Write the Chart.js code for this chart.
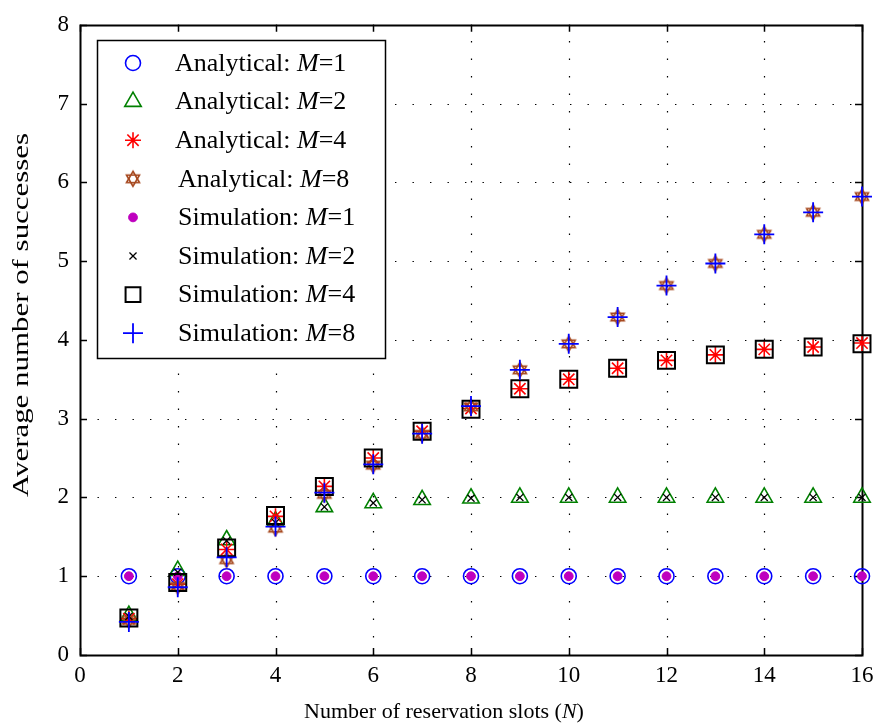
<!DOCTYPE html>
<html>
<head>
<meta charset="utf-8">
<script src="https://cdn.jsdelivr.net/npm/chart.js@4.4.1/dist/chart.umd.min.js"></script>
<style>
html,body{margin:0;padding:0;background:#fff;}
#wrap{width:882px;height:726px;}
</style>
</head>
<body>
<div id="wrap"><canvas id="c" width="882" height="726"></canvas></div>
<script>
// ---------------- data ----------------
const slotsN = [1,2,3,4,5,6,7,8,9,10,11,12,13,14,15,16];
const analyticalM1 = [1,1,1,1,1,1,1,1,1,1,1,1,1,1,1,1];
const analyticalM2 = [0.50,1.07,1.46,1.70,1.88,1.93,1.97,1.99,2.00,2.00,2.00,2.00,2.00,2.00,2.00,2.00];
const analyticalM4 = [0.46,0.90,1.34,1.76,2.14,2.50,2.84,3.13,3.38,3.50,3.64,3.74,3.81,3.88,3.91,3.96];
const analyticalM8 = [0.44,0.87,1.21,1.61,2.04,2.41,2.80,3.15,3.62,3.95,4.29,4.69,4.97,5.34,5.62,5.82];
const simulationM1 = [1,1,1,1,1,1,1,1,1,1,1,1,1,1,1,1];
const simulationM2 = [0.49,1.05,1.45,1.68,1.88,1.93,1.97,1.99,2.00,2.00,2.00,2.00,2.00,2.00,2.00,2.00];
const simulationM4 = [0.47,0.92,1.36,1.77,2.14,2.50,2.84,3.12,3.38,3.50,3.64,3.74,3.81,3.88,3.91,3.95];
const simulationM8 = [0.42,0.86,1.24,1.63,2.06,2.42,2.81,3.16,3.62,3.95,4.29,4.69,4.97,5.34,5.62,5.82];

const seriesKinds = ['Analytical','Analytical','Analytical','Analytical','Simulation','Simulation','Simulation','Simulation'];
const seriesM = [1,2,4,8,1,2,4,8];
const xTicks = [0,2,4,6,8,10,12,14,16];
const yTicks = [0,1,2,3,4,5,6,7,8];
const xTitleParts = [['Number of reservation slots (',false],['N',true],[')',false]];
const yTitle = 'Average number of successes';

// ---------------- styles ----------------
const FONT = '"Liberation Serif","Times New Roman",serif';

function makeHexagram(color){
  const cv = document.createElement('canvas');
  cv.width = 20; cv.height = 20;
  const g = cv.getContext('2d');
  g.strokeStyle = color; g.lineWidth = 1.6; g.lineJoin='miter';
  const cx=10, cy=10, r=7.5;
  for (let k=0;k<2;k++){
    g.beginPath();
    for (let i=0;i<3;i++){
      const a = (k? Math.PI/2 : -Math.PI/2) + i*2*Math.PI/3;
      const px = cx + r*Math.cos(a), py = cy + r*Math.sin(a);
      if(i===0) g.moveTo(px,py); else g.lineTo(px,py);
    }
    g.closePath(); g.stroke();
  }
  return cv;
}
const hexImg = makeHexagram('#a5461c');

const seriesData = [analyticalM1, analyticalM2, analyticalM4, analyticalM8, simulationM1, simulationM2, simulationM4, simulationM8];
const seriesStyle = [
  {pointStyle:'circle',   radius:7.5, borderColor:'#0000ff', backgroundColor:'rgba(0,0,0,0)', borderWidth:1.6},
  {pointStyle:'triangle', radius:9.5, borderColor:'#008000', backgroundColor:'rgba(0,0,0,0)', borderWidth:1.6},
  {pointStyle:'star',     radius:8,   borderColor:'#ff0000', backgroundColor:'rgba(0,0,0,0)', borderWidth:1.6},
  {pointStyle:hexImg,     radius:9,   borderColor:'#a5461c', backgroundColor:'rgba(0,0,0,0)', borderWidth:1.6},
  {pointStyle:'circle',   radius:4.4, borderColor:'#bf00bf', backgroundColor:'#bf00bf', borderWidth:1},
  {pointStyle:'crossRot', radius:5,   borderColor:'#000000', backgroundColor:'rgba(0,0,0,0)', borderWidth:1.3},
  {pointStyle:'rect',     radius:12,  borderColor:'#000000', backgroundColor:'rgba(0,0,0,0)', borderWidth:2},
  {pointStyle:'cross',    radius:10,  borderColor:'#0000ff', backgroundColor:'rgba(0,0,0,0)', borderWidth:1.8}
];

const datasets = seriesData.map((vals,i)=>({
  label: seriesKinds[i] + ': M=' + seriesM[i],
  data: slotsN.map((n,j)=>({x:n, y:vals[j]})),
  showLine:false,
  pointStyle: seriesStyle[i].pointStyle,
  pointRadius: seriesStyle[i].radius,
  pointBorderColor: seriesStyle[i].borderColor,
  pointBackgroundColor: seriesStyle[i].backgroundColor,
  pointBorderWidth: seriesStyle[i].borderWidth,
  pointHoverRadius: seriesStyle[i].radius,
  clip: false,
  order: 8 - i
}));

function drawRich(ctx, parts, x, y, size, align){
  let total = 0;
  const widths = parts.map(p=>{
    ctx.font = (p[1]?'italic ':'') + size + 'px ' + FONT;
    const w = ctx.measureText(p[0]).width; total += w; return w;
  });
  let cx = align==='center' ? x - total/2 : x;
  parts.forEach((p,i)=>{
    ctx.font = (p[1]?'italic ':'') + size + 'px ' + FONT;
    ctx.fillText(p[0], cx, y);
    cx += widths[i];
  });
}

const framePlugin = {
  id:'frame',
  beforeDraw(chart){
    const ctx = chart.ctx;
    ctx.save(); ctx.fillStyle='#fff'; ctx.fillRect(0,0,chart.width,chart.height); ctx.restore();
  },
  beforeDatasetsDraw(chart){
    const ctx = chart.ctx, a = chart.chartArea, sx = chart.scales.x, sy = chart.scales.y;
    ctx.save();
    // dotted grid
    ctx.strokeStyle = '#000'; ctx.lineWidth = 1.2; ctx.setLineDash([1.4,16.1]);
    xTicks.forEach(v=>{
      if (v===xTicks[0] || v===xTicks[xTicks.length-1]) return;
      const px = Math.round(sx.getPixelForValue(v)) + 0.5;
      ctx.beginPath(); ctx.moveTo(px, a.bottom); ctx.lineTo(px, a.top); ctx.stroke();
    });
    yTicks.forEach(v=>{
      if (v===yTicks[0] || v===yTicks[yTicks.length-1]) return;
      const py = Math.round(sy.getPixelForValue(v)) + 0.5;
      ctx.beginPath(); ctx.moveTo(a.left, py); ctx.lineTo(a.right, py); ctx.stroke();
    });
    ctx.setLineDash([]);
    // inward ticks
    ctx.lineWidth = 1.5;
    const TL = 7;
    xTicks.forEach(v=>{
      const px = Math.round(sx.getPixelForValue(v)) + 0.5;
      ctx.beginPath(); ctx.moveTo(px, a.bottom); ctx.lineTo(px, a.bottom-TL);
      ctx.moveTo(px, a.top); ctx.lineTo(px, a.top+TL); ctx.stroke();
    });
    yTicks.forEach(v=>{
      const py = Math.round(sy.getPixelForValue(v)) + 0.5;
      ctx.beginPath(); ctx.moveTo(a.left, py); ctx.lineTo(a.left+TL, py);
      ctx.moveTo(a.right, py); ctx.lineTo(a.right-TL, py); ctx.stroke();
    });
    // box
    ctx.lineWidth = 2;
    ctx.strokeRect(Math.round(a.left)+0.5, Math.round(a.top)+0.5, Math.round(a.right-a.left), Math.round(a.bottom-a.top));
    ctx.restore();
  },
  afterDraw(chart){
    const ctx = chart.ctx;
    ctx.save();
    // legend box
    const L = {x:97, y:40, w:288, h:318};
    ctx.fillStyle = '#fff';
    ctx.fillRect(L.x, L.y, L.w, L.h);
    ctx.strokeStyle = '#000'; ctx.lineWidth = 1.5;
    ctx.strokeRect(L.x+0.5, L.y+0.5, L.w, L.h);
    const drawPoint = (Chart.helpers && Chart.helpers.drawPoint);
    chart.data.datasets.forEach((ds,i)=>{
      const cy = 63 + i*38.6;
      const st = seriesStyle[i];
      ctx.save();
      ctx.strokeStyle = st.borderColor; ctx.fillStyle = st.backgroundColor; ctx.lineWidth = st.borderWidth;
      let r = st.radius;
      if (st.pointStyle==='rect') r = 10.5;
      if (drawPoint) drawPoint(ctx, {pointStyle: st.pointStyle, radius: r, rotation:0, borderWidth: st.borderWidth}, 133, cy);
      ctx.restore();
      ctx.fillStyle = '#000'; ctx.textBaseline = 'middle'; ctx.textAlign = 'left';
      drawRich(ctx, [[seriesKinds[i] + ': ', false], ['M', true], ['=' + seriesM[i], false]], i<3 ? 175 : 178, cy+1, 26, 'left');
    });
    // axis titles
    ctx.fillStyle = '#000'; ctx.textBaseline = 'middle'; ctx.textAlign = 'left';
    drawRich(ctx, xTitleParts, 444, 712, 22, 'center');
    ctx.save();
    ctx.translate(22, 315); ctx.rotate(-Math.PI/2);
    ctx.textAlign = 'center';
    ctx.font = '24px ' + FONT;
    const w = ctx.measureText(yTitle).width;
    ctx.scale(364 / w, 1);
    ctx.fillText(yTitle, 0, 0);
    ctx.restore();
    ctx.restore();
  }
};

new Chart(document.getElementById('c').getContext('2d'), {
  type:'scatter',
  data:{datasets},
  options:{
    responsive:false, animation:false, devicePixelRatio:1,
    layout:{padding:{top:24,right:20,left:0,bottom:0}},
    plugins:{legend:{display:false}, tooltip:{enabled:false}},
    events:[],
    scales:{
      x:{type:'linear', min:0, max:16,
         afterBuildTicks(s){ s.ticks = xTicks.map(v=>({value:v})); },
         ticks:{color:'#000', font:{family:FONT,size:23}, padding:7, maxRotation:0, autoSkip:false},
         grid:{display:false, drawTicks:false}, border:{display:false},
         afterFit(s){ s.height = 71; }},
      y:{type:'linear', min:0, max:8,
         afterBuildTicks(s){ s.ticks = yTicks.map(v=>({value:v})); },
         ticks:{color:'#000', font:{family:FONT,size:23}, padding:11, autoSkip:false},
         grid:{display:false, drawTicks:false}, border:{display:false},
         afterFit(s){ s.width = 80; }}
    }
  },
  plugins:[framePlugin]
});
</script>
</body>
</html>
